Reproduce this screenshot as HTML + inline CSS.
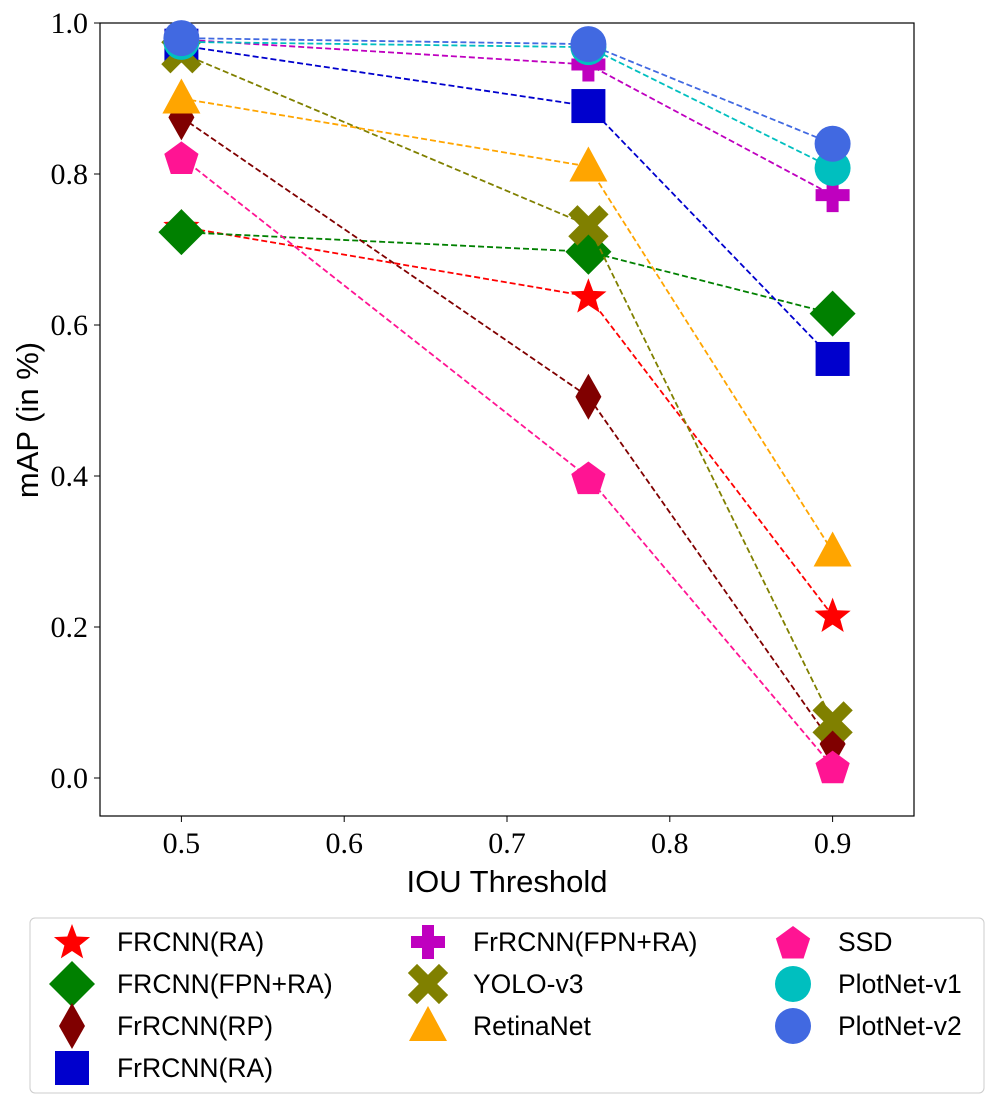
<!DOCTYPE html>
<html><head><meta charset="utf-8"><style>
body{margin:0;background:#fff;}
svg text{font-family:"Liberation Serif",serif;}
.sans{font-family:"Liberation Sans",sans-serif;}
</style></head><body>
<svg id="chart" width="994" height="1103" xmlns="http://www.w3.org/2000/svg">
<rect x="100" y="23" width="814" height="793" fill="#fff" stroke="#000" stroke-width="1.2"/>
<g id="grid"></g>
<g id="series"></g>
<text x="507" y="892" text-anchor="middle" font-size="31" class="sans">IOU Threshold</text>
<text transform="translate(38,420) rotate(-90)" text-anchor="middle" font-size="31" class="sans">mAP (in %)</text>
<rect x="30" y="918" width="954" height="175" rx="5" fill="#fff" stroke="#ccc"/>
<g id="legend"></g>
</svg>
<script>
const thresholds=[0.5,0.75,0.9];
const names=["FRCNN(RA)","FRCNN(FPN+RA)","FrRCNN(RP)","FrRCNN(RA)","FrRCNN(FPN+RA)","YOLO-v3","RetinaNet","SSD","PlotNet-v1","PlotNet-v2"];
const frcnnRA=[0.73,0.638,0.215];
const frcnnFpnRA=[0.723,0.697,0.615];
const frrcnnRP=[0.875,0.505,0.045];
const frrcnnRA=[0.97,0.89,0.555];
const frrcnnFpnRA=[0.978,0.945,0.772];
const yolo=[0.96,0.732,0.075];
const retina=[0.90,0.81,0.30];
const ssd=[0.822,0.398,0.015];
const plotnet1=[0.975,0.968,0.808];
const plotnet2=[0.98,0.972,0.84];
const xTicks=["0.5","0.6","0.7","0.8","0.9"];
const yTicks=["0.0","0.2","0.4","0.6","0.8","1.0"];
const values=[frcnnRA,frcnnFpnRA,frrcnnRP,frrcnnRA,frrcnnFpnRA,yolo,retina,ssd,plotnet1,plotnet2];
const colors=["#ff0000","#008000","#800000","#0000cd","#bf00bf","#808000","#ffa500","#ff1493","#00bfbf","#4169e1"];
const shapes=["star","diamond","thin","square","plus","x","tri","pent","circle","circle"];
const NS="http://www.w3.org/2000/svg";
const X=v=>100+(v-0.45)*1628, Y=v=>778-v*755;
function mk(tag,attrs,parent){const e=document.createElementNS(NS,tag);for(const k in attrs)e.setAttribute(k,attrs[k]);parent.appendChild(e);return e;}
function poly(pts){return pts.map(p=>p.join(",")).join(" ");}
function marker(shape,cx,cy,c,parent){
 let e;
 if(shape==="circle")e=mk("circle",{cx,cy,r:18,fill:c},parent);
 else if(shape==="square")e=mk("rect",{x:cx-17,y:cy-17,width:34,height:34,fill:c},parent);
 else if(shape==="diamond")e=mk("polygon",{points:poly([[cx,cy-23],[cx+23,cy],[cx,cy+23],[cx-23,cy]]),fill:c},parent);
 else if(shape==="thin")e=mk("polygon",{points:poly([[cx,cy-23],[cx+13,cy],[cx,cy+23],[cx-13,cy]]),fill:c},parent);
 else if(shape==="tri")e=mk("polygon",{points:poly([[cx,cy-20],[cx+19,cy+15],[cx-19,cy+15]]),fill:c},parent);
 else if(shape==="plus")e=mk("polygon",{points:poly([[cx-6,cy-17],[cx+6,cy-17],[cx+6,cy-6],[cx+17,cy-6],[cx+17,cy+6],[cx+6,cy+6],[cx+6,cy+17],[cx-6,cy+17],[cx-6,cy+6],[cx-17,cy+6],[cx-17,cy-6],[cx-6,cy-6]]),fill:c},parent);
 else if(shape==="x"){e=mk("g",{},parent);
   mk("rect",{x:cx-22,y:cy-6.5,width:44,height:13,fill:c,transform:`rotate(45 ${cx} ${cy})`},e);
   mk("rect",{x:cx-22,y:cy-6.5,width:44,height:13,fill:c,transform:`rotate(-45 ${cx} ${cy})`},e);}
 else if(shape==="pent"||shape==="star"){const p=[];const n=shape==="pent"?5:10;for(let i=0;i<n;i++){const a=-Math.PI/2+i*2*Math.PI/n;const r=shape==="pent"?18:(i%2?8:19);p.push([cx+r*Math.cos(a),cy+r*Math.sin(a)+(shape==="pent"?2:1)]);}e=mk("polygon",{points:poly(p),fill:c},parent);}
 return e;
}
const g=document.getElementById("grid");
xTicks.forEach(t=>{const x=X(+t);
 const l=mk("line",{x1:x,x2:x,y1:816,y2:822,stroke:"#000"},g);
 
 
 const tx=mk("text",{x:x,y:853,"text-anchor":"middle","font-size":30},g);tx.textContent=t;
 
 });
yTicks.forEach(t=>{const y=Y(+t);
 const l=mk("line",{x1:94,x2:100,y1:y,y2:y,stroke:"#000"},g);
 
 
 const tx=mk("text",{x:88,y:y+10,"text-anchor":"end","font-size":30},g);tx.textContent=t;
 
 });
const s=document.getElementById("series");
values.forEach((vals,i)=>{
 const grp=mk("g",{},s);
 
 
 const pl=mk("polyline",{points:poly(thresholds.map((t,j)=>[X(t),Y(vals[j])])),fill:"none",stroke:colors[i],"stroke-width":1.8,"stroke-dasharray":"6,3"},grp);
 
 
 thresholds.forEach((t,j)=>{const m=marker(shapes[i],X(t),Y(vals[j]),colors[i],grp);
  
  });
});
const lg=document.getElementById("legend");
const cols=[[0,1,2,3],[4,5,6],[7,8,9]];
const colX=[72,428,793];
cols.forEach((c,ci)=>c.forEach((idx,ri)=>{
 const y=942+ri*42;
 const m=marker(shapes[idx],colX[ci],y,colors[idx],lg);
 
 
 const t=mk("text",{x:colX[ci]+45,y:y+9,"font-size":26.5,"class":"sans"},lg);t.textContent=names[idx];
 
 
}));
</script>
</body></html>
